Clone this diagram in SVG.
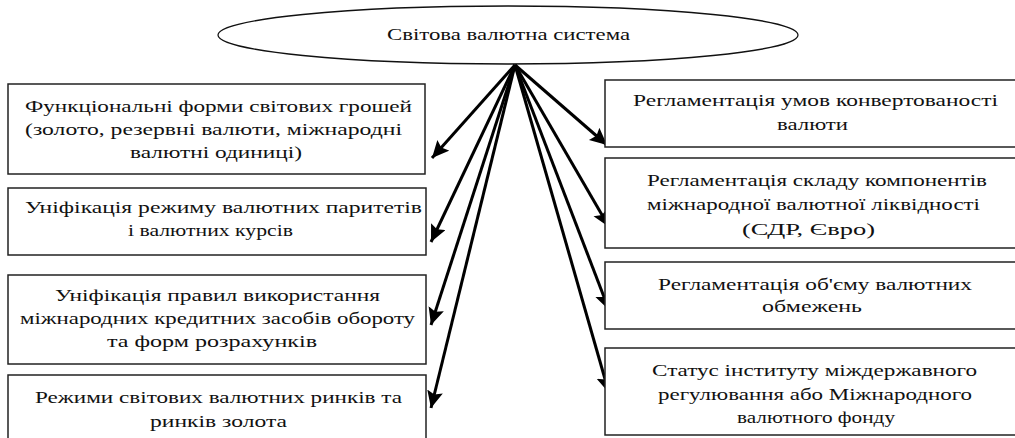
<svg xmlns="http://www.w3.org/2000/svg" width="1015" height="438" viewBox="0 0 1015 438">
<style>
.box{fill:#fff;stroke:#222;stroke-width:1.5}
text{font-family:'Liberation Serif','Times New Roman','DejaVu Serif',serif;font-size:17px;fill:#111}
.c{stroke:#000;stroke-width:3;fill:none;marker-end:url(#ah)}
</style>
<defs>
<marker id="ah" markerUnits="userSpaceOnUse" markerWidth="20" markerHeight="18" refX="17" refY="8" orient="auto">
<path d="M0,0 L17,8 L0,16 L3,8 Z" fill="#000"/>
</marker>
</defs>
<rect width="1015" height="438" fill="#fff"/>
<g id="root">
<ellipse cx="508" cy="35" rx="290" ry="29" fill="#fff" stroke="#111" stroke-width="1.3"/>
<text x="387" y="40" textLength="243" lengthAdjust="spacingAndGlyphs">Світова валютна система</text>
</g>
<g id="connectors">
<line class="c" x1="515" y1="65" x2="432" y2="158"/>
<line class="c" x1="515" y1="65" x2="431" y2="242"/>
<line class="c" x1="515" y1="65" x2="431" y2="325"/>
<line class="c" x1="515" y1="65" x2="431" y2="408"/>
<line class="c" x1="515" y1="65" x2="607" y2="145"/>
<line class="c" x1="515" y1="65" x2="609" y2="227"/>
<line class="c" x1="515" y1="65" x2="609" y2="310"/>
<line class="c" x1="515" y1="65" x2="609" y2="393"/>
</g>
<g id="left1">
<rect class="box" x="8" y="84" width="417" height="90"/>
<text x="25" y="112" textLength="387" lengthAdjust="spacingAndGlyphs">Функціональні форми світових грошей</text>
<text x="25" y="135" textLength="377" lengthAdjust="spacingAndGlyphs">(золото, резервні валюти, міжнародні</text>
<text x="130" y="158" textLength="172" lengthAdjust="spacingAndGlyphs">валютні одиниці)</text>
</g>
<g id="left2">
<rect class="box" x="8" y="188" width="418" height="67"/>
<text x="25" y="213" textLength="397" lengthAdjust="spacingAndGlyphs">Уніфікація режиму валютних паритетів</text>
<text x="128" y="236" textLength="165" lengthAdjust="spacingAndGlyphs">і валютних курсів</text>
</g>
<g id="left3">
<rect class="box" x="8" y="275" width="418" height="89"/>
<text x="55" y="301" textLength="325" lengthAdjust="spacingAndGlyphs">Уніфікація правил використання</text>
<text x="20" y="324" textLength="395" lengthAdjust="spacingAndGlyphs">міжнародних кредитних засобів обороту</text>
<text x="107" y="347" textLength="210" lengthAdjust="spacingAndGlyphs">та форм розрахунків</text>
</g>
<g id="left4">
<rect class="box" x="8" y="375" width="418" height="80"/>
<text x="35" y="403" textLength="367" lengthAdjust="spacingAndGlyphs">Режими світових валютних ринків та</text>
<text x="150" y="427" textLength="137" lengthAdjust="spacingAndGlyphs">ринків золота</text>
</g>
<g id="right1">
<rect class="box" x="605" y="80" width="430" height="67"/>
<text x="633" y="106" textLength="365" lengthAdjust="spacingAndGlyphs">Регламентація умов конвертованості</text>
<text x="777" y="130" textLength="71" lengthAdjust="spacingAndGlyphs">валюти</text>
</g>
<g id="right2">
<rect class="box" x="605" y="158" width="430" height="90"/>
<text x="647" y="186" textLength="340" lengthAdjust="spacingAndGlyphs">Регламентація складу компонентів</text>
<text x="647" y="210" textLength="333" lengthAdjust="spacingAndGlyphs">міжнародної валютної ліквідності</text>
<text x="742" y="235" textLength="133" lengthAdjust="spacingAndGlyphs">(СДР, Євро)</text>
</g>
<g id="right3">
<rect class="box" x="605" y="262" width="430" height="67"/>
<text x="658" y="290" textLength="314" lengthAdjust="spacingAndGlyphs">Регламентація об'єму валютних</text>
<text x="762" y="312" textLength="100" lengthAdjust="spacingAndGlyphs">обмежень</text>
</g>
<g id="right4">
<rect class="box" x="605" y="348" width="430" height="87"/>
<text x="652" y="376" textLength="325" lengthAdjust="spacingAndGlyphs">Статус інституту міждержавного</text>
<text x="658" y="400" textLength="314" lengthAdjust="spacingAndGlyphs">регулювання або Міжнародного</text>
<text x="737" y="423" textLength="158" lengthAdjust="spacingAndGlyphs">валютного фонду</text>
</g>
</svg>
